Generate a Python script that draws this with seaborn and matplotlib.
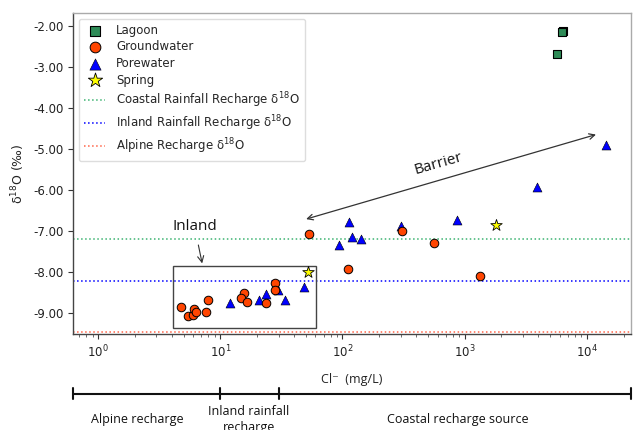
import numpy as np
import matplotlib
matplotlib.use('Agg')
import matplotlib.pyplot as plt
import matplotlib.transforms as mtransforms
from matplotlib.patches import Rectangle
from matplotlib.ticker import FormatStrFormatter
import seaborn as sns

# ---------------- data ----------------
lagoon_cl = [6430, 6300, 5740]
lagoon_d18o = [-2.12, -2.15, -2.67]

gw_cl = [4.75, 5.48, 6.03, 6.14, 6.35, 7.9, 7.7, 15.7, 14.7, 16.6, 23.7, 28.2, 28.2,
         53, 111.7, 305, 562, 1330]
gw_d18o = [-8.85, -9.06, -9.04, -8.90, -8.97, -8.68, -8.97, -8.51, -8.63, -8.73, -8.74,
           -8.25, -8.44, -7.07, -7.91, -6.98, -7.28, -8.09]

pw_cl = [12.1, 20.8, 23.8, 29.9, 34.1, 48.5, 113, 93.8, 119, 142, 300, 861, 3935, 14360]
pw_d18o = [-8.74, -8.66, -8.53, -8.43, -8.67, -8.35, -6.77, -7.33, -7.14, -7.19, -6.86,
           -6.73, -5.93, -4.89]

spring_cl = [52, 1807]
spring_d18o = [-7.99, -6.84]

recharge_labels = ['Coastal Rainfall Recharge δ$^{18}$O',
                   'Inland Rainfall Recharge δ$^{18}$O',
                   'Alpine Recharge δ$^{18}$O']
recharge_values = [-7.19, -8.20, -9.45]
recharge_colors = ['mediumseagreen', 'blue', 'tomato']

ytick_values = [-9, -8, -7, -6, -5, -4, -3, -2]

# source ranges (Cl- bounds) for the bottom bar
range_bounds = [0.622, 10, 30.3, 23000]
range_labels = ['Alpine recharge', 'Inland rainfall\nrecharge', 'Coastal recharge source']
range_label_x = [2.1, 17.2, 875]

# ---------------- style ----------------
sns.set_style('white')
plt.rcParams['font.family'] = ['DejaVu Sans']
plt.rcParams['axes.unicode_minus'] = False
humanist = ['Open Sans', 'DejaVu Sans']

fig = plt.figure(figsize=(6.33, 4.30), dpi=100)
ax = fig.add_axes([0.1153, 0.2233, 0.8815, 0.7472])

# recharge reference lines
for val, lab, col in zip(recharge_values, recharge_labels, recharge_colors):
    ax.axhline(val, color=col, linestyle=':', linewidth=1.1, label=lab, zorder=1)

sns.scatterplot(x=lagoon_cl, y=lagoon_d18o, marker='s', color='seagreen', edgecolor='black',
                linewidth=0.8, s=34, label='Lagoon', ax=ax, zorder=3)
sns.scatterplot(x=pw_cl, y=pw_d18o, marker='^', color='blue', edgecolor='black',
                linewidth=0.4, s=42, label='Porewater', ax=ax, zorder=3)
sns.scatterplot(x=gw_cl, y=gw_d18o, marker='o', color='orangered', edgecolor='black',
                linewidth=0.7, s=38, label='Groundwater', ax=ax, zorder=3)
sns.scatterplot(x=spring_cl, y=spring_d18o, marker='*', color='yellow', edgecolor='black',
                linewidth=0.6, s=75, label='Spring', ax=ax, zorder=3)

ax.set_xscale('log')
ax.set_xlim(range_bounds[0], range_bounds[-1])
ax.set_ylim(-9.5, -1.67)
ax.set_yticks(ytick_values)
ax.yaxis.set_major_formatter(FormatStrFormatter('%.2f'))

ax.tick_params(axis='both', which='major', direction='out', length=3.5, width=0.8,
               labelsize=8.5, bottom=True, left=True, colors='#333333', labelcolor='#222222')
ax.tick_params(axis='x', which='minor', direction='out', length=2, width=0.6,
               bottom=True, colors='#555555')

for side in ['left', 'bottom']:
    ax.spines[side].set_color('#444444')
    ax.spines[side].set_linewidth(1.0)
for side in ['top', 'right']:
    ax.spines[side].set_color('#aaaaaa')
    ax.spines[side].set_linewidth(1.0)

ax.set_ylabel('δ$^{18}$O (‰)', fontsize=9, color='#222222', labelpad=4)
ax.set_xlabel('Cl⁻  (mg/L)', fontsize=9, family=humanist, color='#222222', labelpad=9)

# inland box
ax.add_patch(Rectangle((4.09, -9.35), 60.4 - 4.09, 9.35 - 7.85, fill=False,
                       edgecolor='#444444', linewidth=1.0, zorder=2))
ax.annotate('Inland', xy=(7.1, -7.78), xytext=(6.14, -6.87), ha='center', va='center',
            fontsize=11, family=humanist, color='#111111',
            arrowprops=dict(arrowstyle='->', color='#333333', lw=0.8,
                            shrinkA=6, shrinkB=0))
# barrier arrow
ax.annotate('', xy=(11890, -4.64), xytext=(50.4, -6.70),
            arrowprops=dict(arrowstyle='<->', color='#333333', lw=0.9,
                            shrinkA=0, shrinkB=0))
ax.text(610, -5.35, 'Barrier', rotation=16, ha='center', va='center', fontsize=11,
        family=humanist, color='#111111')

# legend
handles, labels = ax.get_legend_handles_labels()
order = ['Lagoon', 'Groundwater', 'Porewater', 'Spring'] + recharge_labels
hmap = dict(zip(labels, handles))
leg = ax.legend([hmap[k] for k in order], order, loc='upper left', fontsize=8.5,
                frameon=True, framealpha=1, edgecolor='#dddddd', labelspacing=0.3,
                borderpad=0.45, markerscale=1.25, handlelength=1.8, handletextpad=0.9)

# bottom source-range bar
trans = mtransforms.blended_transform_factory(ax.transData, fig.transFigure)
bar_y = 1 - 394 / 430
ax.plot([range_bounds[0], range_bounds[-1]], [bar_y, bar_y], transform=trans,
        color='#111111', lw=1.5, clip_on=False)
for b in range_bounds:
    ax.plot([b, b], [1 - 388 / 430, 1 - 399 / 430], transform=trans,
            color='#111111', lw=1.5, clip_on=False)
ax.text(range_label_x[0], 1 - 420 / 430, range_labels[0], transform=trans, ha='center',
        va='center', fontsize=9, family=humanist, color='#111111')
ax.text(range_label_x[1], 1 - 405 / 430, range_labels[1], transform=trans, ha='center',
        va='top', fontsize=9, family=humanist, color='#111111', linespacing=1.3)
ax.text(range_label_x[2], 1 - 420 / 430, range_labels[2], transform=trans, ha='center',
        va='center', fontsize=9, family=humanist, color='#111111')

fig.savefig('out.png', dpi=100)
